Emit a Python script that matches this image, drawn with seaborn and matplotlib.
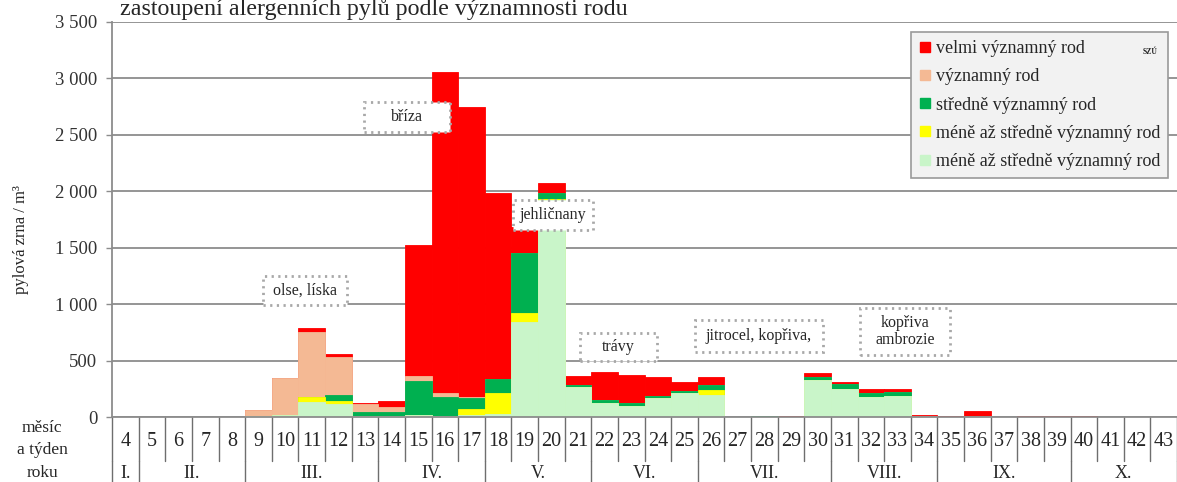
import matplotlib
matplotlib.use("Agg")
import matplotlib.pyplot as plt
import numpy as np
import pandas as pd
import seaborn as sns
from matplotlib.lines import Line2D
from matplotlib.patches import Rectangle

# ---- data: pollen grains per m3, calendar weeks 4-43 ----
weeks = list(range(4, 44))

very_significant = [0, 0, 0, 0, 0,   0, 0, 30, 21, 12,
                    50, 1160, 2844, 2570, 1647,   230, 83, 80, 250, 251,
                    166, 80, 74, 0, 6,   8, 30, 17, 33, 28,
                    14, 8, 45, 0, 6,   6, 6, 0, 0, 0]
significant = [0, 0, 0, 0, 0,   60, 325, 576, 339, 70,
               50, 40, 30, 10, 0,   0, 0, 0, 0, 0,
               0, 0, 0, 0, 0,   0, 0, 0, 0, 0,
               8, 0, 8, 0, 0,   0, 0, 0, 0, 0]
moderately_significant = [0, 0, 0, 0, 0,   0, 0, 0, 53, 35,
                          30, 305, 170, 100, 125,   530, 57, 15, 25, 24,
                          21, 23, 44, 0, 6,   0, 29, 45, 35, 37,
                          0, 0, 0, 0, 0,   0, 0, 0, 0, 0]
less_to_moderate_yellow = [0, 0, 0, 0, 0,   0, 0, 44, 30, 0,
                           0, 0, 0, 55, 180,   75, 10, 0, 0, 0,
                           0, 0, 44, 0, 0,   0, 0, 0, 0, 0,
                           0, 0, 0, 0, 0,   0, 0, 0, 0, 0]
less_to_moderate_pale = [0, 0, 0, 0, 0,   5, 20, 136, 112, 10,
                         10, 15, 10, 15, 30,   845, 1920, 265, 125, 97,
                         165, 210, 195, 0, 0,   0, 328, 245, 180, 183,
                         0, 0, 0, 0, 0,   0, 0, 0, 0, 0]

series_labels = ["velmi významný rod", "významný rod", "středně významný rod",
                 "méně až středně významný rod", "méně až středně významný rod"]

months = ["I.", "II.", "III.", "IV.", "V.", "VI.", "VII.", "VIII.", "IX.", "X."]
month_first_week = [4, 5, 9, 14, 18, 22, 26, 31, 35, 40]

ytick_values = [0, 500, 1000, 1500, 2000, 2500, 3000, 3500]

# (text, left, right, bottom, top) in week-position / value units
callouts = [
    ("bříza", 8.96, 12.19, 2525, 2791),
    ("olse, líska", 5.17, 8.33, 995, 1249),
    ("jehličnany", 14.56, 17.57, 1657, 1923),
    ("trávy", 17.08, 19.96, 500, 741),
    ("jitrocel, kopřiva,", 21.4, 26.2, 578, 859),
    ("kopřiva\nambrozie", 27.6, 30.97, 549, 966),
]

colors = ["#ff0000", "#f4b994", "#00b050", "#ffff00", "#c9f5c9"]

# ---- style ----
sns.set_style("white")
plt.rcParams["font.family"] = ["Liberation Serif", "DejaVu Serif"]

W, H = 1177, 482
fig = plt.figure(figsize=(W / 100, H / 100), dpi=100)
ax = fig.add_axes([112 / W, (H - 417) / H, 1065 / W, 395 / H])

df = pd.DataFrame({
    "week": [str(w) for w in weeks],
    "pale": less_to_moderate_pale,
    "yellow": less_to_moderate_yellow,
    "green": moderately_significant,
    "peach": significant,
    "red": very_significant,
})
stack_cols = ["pale", "yellow", "green", "peach", "red"]
cum = df[stack_cols].cumsum(axis=1)

# stacked bars: draw cumulative totals from the top layer downwards
layer_colors = {"pale": colors[4], "yellow": colors[3], "green": colors[2],
                "peach": colors[1], "red": colors[0]}
for col in reversed(stack_cols):
    sns.barplot(x=df["week"], y=cum[col], color=layer_colors[col], saturation=1,
                width=1.0, linewidth=0.6, edgecolor=layer_colors[col],
                errorbar=None, order=df["week"].tolist(), ax=ax, zorder=2)

ax.set_xlim(-0.5, len(weeks) - 0.5)
ax.set_ylim(0, 3500)
ax.set_yticks(ytick_values)
ax.set_yticklabels([f"{v:,}".replace(",", " ") for v in ytick_values],
                   fontsize=13.5, color="#333333")
ax.tick_params(axis="y", length=4, width=1, color="#8c8c8c", pad=6.5, left=True)
ax.set_xticks([])
ax.set_xlabel("")
ax.set_ylabel("")
ax.yaxis.grid(True, color="#8c8c8c", linewidth=1.3)
ax.set_axisbelow(True)
for s in ["top", "right"]:
    ax.spines[s].set_visible(False)
for s in ["left", "bottom"]:
    ax.spines[s].set_color("#8c8c8c")
    ax.spines[s].set_linewidth(1.3)

# callout labels with dotted frames
for text, x0, x1, y0, y1 in callouts:
    ax.add_patch(Rectangle((x0, y0), x1 - x0, y1 - y0, facecolor="white",
                           edgecolor="#a8a8a8", linewidth=2.0,
                           linestyle=(0, (0.8, 1.6)), zorder=5))
    ax.text((x0 + x1) / 2, (y0 + y1) / 2, text, ha="center", va="center",
            fontsize=11.5, zorder=6, linespacing=1.15)

# week / month table under the axis
tr = ax.get_xaxis_transform()
px = lambda y: (417 - y) / 395.0
row1_bottom = px(461)
table_bottom = px(490)
for i in range(len(weeks) + 1):
    ax.plot([i - 0.5, i - 0.5], [0, row1_bottom], transform=tr, clip_on=False,
            color="#6e6e6e", linewidth=1.0)
for i, w in enumerate(weeks):
    ax.text(i, px(441), str(w), transform=tr, ha="center", va="center",
            fontsize=14.5, clip_on=False)
bounds = [w - weeks[0] - 0.5 for w in month_first_week] + [len(weeks) - 0.5]
for b in bounds:
    ax.plot([b, b], [row1_bottom, table_bottom], transform=tr, clip_on=False,
            color="#6e6e6e", linewidth=1.0)
for m, a, b in zip(months, bounds[:-1], bounds[1:]):
    ax.text((a + b) / 2, px(474), m, transform=tr, ha="center", va="center",
            fontsize=13, clip_on=False)

for t, y in [("měsíc", 428), ("a týden", 450), ("roku", 473)]:
    fig.text(42 / W, 1 - y / H, t, ha="center", va="center", fontsize=12.5)

fig.text(21 / W, 1 - 240 / H, "pylová zrna / m³", rotation=90, ha="center",
         va="center", fontsize=12)

fig.text(120 / W, 1 - 15 / H, "zastoupení alergenních pylů podle významnosti rodu",
         ha="left", va="baseline", fontsize=17.3)

# legend
handles = [Line2D([], [], marker="s", linestyle="", markersize=6.5,
                  markerfacecolor=c, markeredgecolor=c) for c in colors]
leg = fig.legend(handles, series_labels, loc="upper right",
                 bbox_to_anchor=(1168 / W, 1 - 32 / H), fontsize=13,
                 frameon=True, fancybox=False, framealpha=1,
                 facecolor="#f2f2f2", edgecolor="#9a9a9a",
                 handlelength=0.6, handletextpad=0.3, labelspacing=0.62,
                 borderpad=0.45, borderaxespad=0)
leg.get_frame().set_linewidth(1.2)
fig.text(1150 / W, 1 - 52 / H, "SZÚ", ha="center", va="center", fontsize=5.5,
         fontweight="bold", color="#222222", zorder=10)

fig.savefig("out.png", dpi=100)
